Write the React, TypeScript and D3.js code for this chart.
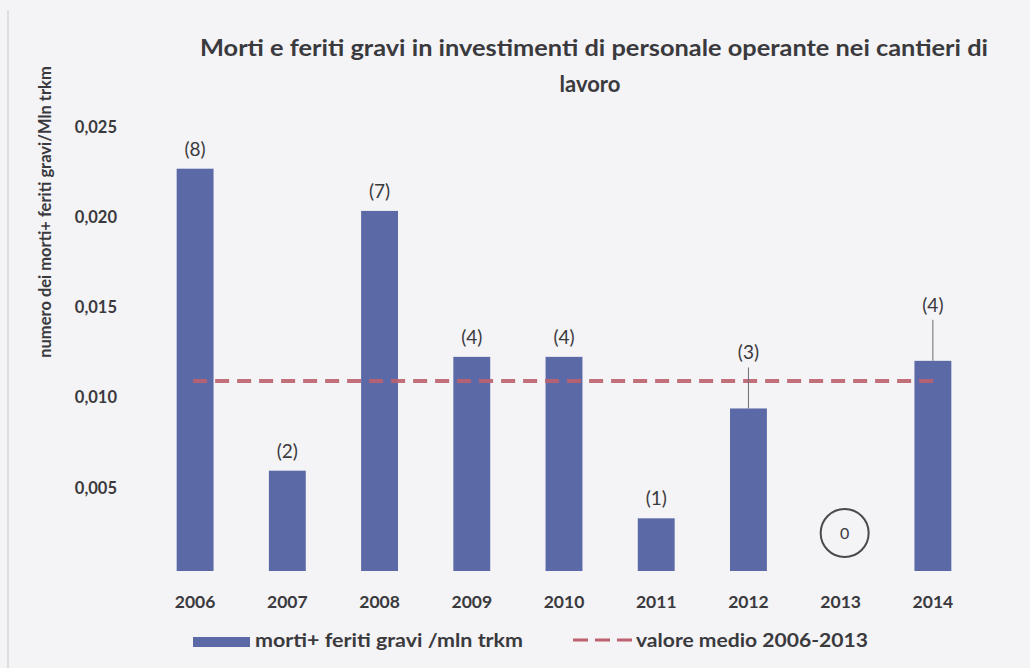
import React, { useEffect, useRef } from 'react';
import * as d3 from 'd3';

const years = ['2006', '2007', '2008', '2009', '2010', '2011', '2012', '2013', '2014'];
const rates = [0.0223, 0.00556, 0.01996, 0.01187, 0.01187, 0.00292, 0.00901, 0, 0.01165];
const counts = [8, 2, 7, 4, 4, 1, 3, 0, 4];
const meanValue = 0.01053;
const yTicks = [0.005, 0.01, 0.015, 0.02, 0.025];
const leaderYears = ['2012', '2014'];

const title = ['Morti e feriti gravi in investimenti di personale operante nei cantieri di', 'lavoro'];
const yTitle = 'numero dei morti+ feriti gravi/Mln trkm';
const barLegend = 'morti+ feriti gravi /mln trkm';
const lineLegend = 'valore medio 2006-2013';

const W = 1030;
const H = 668;
const font = 'Lato, "Open Sans", sans-serif';
const textColor = '#3a3a3e';
const barColor = '#5b6aa7';
const lineColor = '#bd6170';

const App = () => {
  const svgRef = useRef<SVGSVGElement>(null);

  useEffect(() => {
    const svg = d3.select(svgRef.current);
    svg.selectAll('*').remove();

    const margin = { top: 120, right: 51, bottom: 97, left: 149 };

    const x = d3.scaleBand()
      .domain(years)
      .range([margin.left, W - margin.right])
      .paddingInner(0.6)
      .paddingOuter(0.3);

    const y = d3.scaleLinear()
      .domain([0, 0.025])
      .range([H - margin.bottom, margin.top]);

    // background
    svg.append('rect')
      .attr('width', W).attr('height', H)
      .attr('fill', '#f4f3f5');
    svg.append('line')
      .attr('x1', 8).attr('x2', 8).attr('y1', 10).attr('y2', H)
      .attr('stroke', '#c9c8cc').attr('stroke-width', 1);

    // title
    const t = svg.append('text')
      .attr('text-anchor', 'middle')
      .attr('font-family', font).attr('font-weight', 700)
      .attr('font-size', 22).attr('fill', textColor);
    t.append('tspan')
      .attr('x', 594).attr('y', 56)
      .attr('textLength', 788).attr('lengthAdjust', 'spacingAndGlyphs')
      .text(title[0]);
    t.append('tspan')
      .attr('x', 590).attr('y', 92)
      .text(title[1]);

    // y axis
    const yAxis = svg.append('g')
      .attr('transform', `translate(${margin.left - 29}, 0)`)
      .call(d3.axisLeft(y).tickValues(yTicks).tickSize(0).tickFormat(d => d3.format('.3f')(+d).replace('.', ',')));
    yAxis.select('.domain').remove();
    yAxis.selectAll('text')
      .attr('font-family', font).attr('font-weight', 700)
      .attr('font-size', 16.5).attr('fill', textColor)
      .attr('dy', '0.75em');

    svg.append('text')
      .attr('transform', 'rotate(-90)')
      .attr('x', -212).attr('y', 51)
      .attr('text-anchor', 'middle')
      .attr('font-family', font).attr('font-weight', 700)
      .attr('font-size', 16.5).attr('fill', textColor)
      .text(yTitle);

    // x axis
    const xAxis = svg.append('g')
      .attr('transform', `translate(0, ${H - margin.bottom})`)
      .call(d3.axisBottom(x).tickSize(0).tickPadding(25));
    xAxis.select('.domain').remove();
    xAxis.selectAll('text')
      .attr('font-family', font).attr('font-weight', 700)
      .attr('font-size', 17.5).attr('fill', textColor);

    const data = years.map((year, i) => ({ year, rate: rates[i], count: counts[i] }));

    // bars
    svg.append('g').selectAll('rect')
      .data(data.filter(d => d.rate > 0))
      .enter().append('rect')
      .attr('x', d => x(d.year)!)
      .attr('y', d => y(d.rate))
      .attr('width', x.bandwidth())
      .attr('height', d => y(0) - y(d.rate))
      .attr('fill', barColor);

    // mean line
    svg.append('line')
      .attr('x1', x(years[0])! + x.bandwidth() / 2 - 2)
      .attr('x2', x(years[years.length - 1])! + x.bandwidth() / 2 + 3)
      .attr('y1', y(meanValue)).attr('y2', y(meanValue))
      .attr('stroke', lineColor).attr('stroke-width', 4)
      .attr('stroke-dasharray', '14 8')
      .attr('opacity', 0.9);

    // count labels
    const labels = svg.append('g');
    data.forEach(d => {
      const cx = x(d.year)! + x.bandwidth() / 2;
      if (d.rate === 0) {
        const cy = y(0) - 38;
        labels.append('circle')
          .attr('cx', cx + 4).attr('cy', cy).attr('r', 24)
          .attr('fill', 'none').attr('stroke', '#4a4a4e').attr('stroke-width', 2);
        labels.append('text')
          .attr('x', cx + 4).attr('y', cy + 6)
          .attr('text-anchor', 'middle')
          .attr('font-family', font).attr('font-size', 16).attr('fill', textColor)
          .text(d.count);
        return;
      }
      const leader = leaderYears.includes(d.year) ? 36 : 0;
      const ly = y(d.rate) - 13 - leader;
      if (leader) {
        labels.append('line')
          .attr('x1', cx).attr('x2', cx)
          .attr('y1', ly + 8).attr('y2', y(d.rate))
          .attr('stroke', '#6a6a70').attr('stroke-width', 1);
      }
      labels.append('text')
        .attr('x', cx).attr('y', ly)
        .attr('text-anchor', 'middle')
        .attr('font-family', font).attr('font-size', 19).attr('fill', textColor)
        .text(`(${d.count})`);
    });

    // legend
    const legend = svg.append('g').attr('transform', 'translate(0, 647)');
    legend.append('rect')
      .attr('x', 193).attr('y', -10).attr('width', 57).attr('height', 10)
      .attr('fill', barColor);
    legend.append('text')
      .attr('x', 255).attr('y', 0)
      .attr('font-family', font).attr('font-weight', 700)
      .attr('font-size', 19).attr('fill', textColor)
      .attr('textLength', 268).attr('lengthAdjust', 'spacingAndGlyphs')
      .text(barLegend);
    legend.append('line')
      .attr('x1', 573).attr('x2', 632).attr('y1', -7).attr('y2', -7)
      .attr('stroke', lineColor).attr('stroke-width', 3)
      .attr('stroke-dasharray', '15 7');
    legend.append('text')
      .attr('x', 636).attr('y', 0)
      .attr('font-family', font).attr('font-weight', 700)
      .attr('font-size', 19).attr('fill', textColor)
      .attr('textLength', 232).attr('lengthAdjust', 'spacingAndGlyphs')
      .text(lineLegend);
  }, []);

  return (
    <svg
      ref={svgRef}
      width={W}
      height={H}
      style={{ position: 'absolute', left: 0, top: 0, display: 'block' }}
    />
  );
};

export default App;
